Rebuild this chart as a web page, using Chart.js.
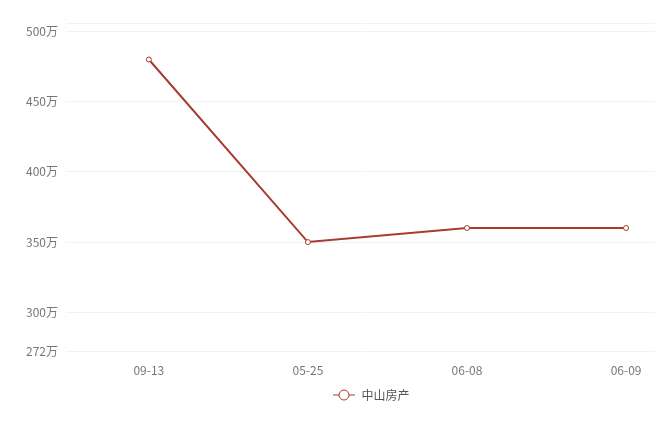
<!DOCTYPE html>
<html>
<head>
<meta charset="utf-8">
<script src="https://cdn.jsdelivr.net/npm/chart.js@4.4.1/dist/chart.umd.min.js"></script>
<style>
  html, body { margin: 0; padding: 0; background: #fff; }
  #wrap { width: 660px; height: 432px; position: relative; }
</style>
</head>
<body>
<div id="wrap"><canvas id="chart" width="660" height="432"></canvas></div>
<script>
const categories = ['09-13', '05-25', '06-08', '06-09'];
const prices = [480, 350, 360, 360];
const yTicks = [272, 300, 350, 400, 450, 500, 506];
const seriesName = '中山房产';

const lineColor = '#a83a2f';

// legend icon: short line with hollow circle
const icon = document.createElement('canvas');
icon.width = 22; icon.height = 12;
(function () {
    const c = icon.getContext('2d');
    c.strokeStyle = lineColor;
    c.lineWidth = 1;
    c.beginPath(); c.moveTo(0, 6); c.lineTo(22, 6); c.stroke();
    c.fillStyle = '#fff';
    c.beginPath(); c.arc(11, 6, 5, 0, Math.PI * 2); c.fill(); c.stroke();
})();

// nudge the legend to where the original puts it
const legendShift = {
    id: 'legendShift',
    afterLayout(chart) {
        const lg = chart.legend;
        lg.left += 32; lg.right += 32;
        lg.top += 1; lg.bottom += 1;
    },
};

new Chart(document.getElementById('chart'), {
    type: 'line',
    data: {
        datasets: [{
            label: seriesName,
            data: prices.map((v, i) => ({ x: i, y: v })),
            borderColor: lineColor,
            borderWidth: 2,
            backgroundColor: '#fff',
            pointRadius: 2.5,
            pointBorderWidth: 1,
            pointBorderColor: lineColor,
            pointBackgroundColor: '#fff',
            tension: 0,
        }],
    },
    plugins: [legendShift],
    options: {
        responsive: false,
        animation: false,
        layout: { padding: { top: 23, right: 0, left: 18, bottom: 22 } },
        plugins: {
            tooltip: { enabled: false },
            legend: {
                position: 'bottom',
                labels: {
                    usePointStyle: true,
                    pointStyleWidth: 23,
                    color: '#555',
                    font: { family: 'Noto Sans CJK SC', size: 12 },
                    padding: 6,
                    generateLabels: (chart) => [{
                        text: seriesName,
                        pointStyle: icon,
                        fontColor: '#555',
                        datasetIndex: 0,
                    }],
                },
            },
        },
        scales: {
            x: {
                type: 'linear',
                min: -0.521,
                max: 3.182,
                afterBuildTicks: (axis) => { axis.ticks = categories.map((_, i) => ({ value: i })); },
                grid: { display: false },
                border: { display: false },
                ticks: {
                    color: '#777',
                    font: { family: 'Noto Sans CJK SC', size: 12 },
                    padding: 4,
                    maxRotation: 0,
                    autoSkip: false,
                    callback: (v) => categories[v] ?? '',
                },
            },
            y: {
                min: 272,
                max: 506,
                afterBuildTicks: (axis) => { axis.ticks = yTicks.map(v => ({ value: v })); },
                grid: { color: '#f2f2f2', lineWidth: 1, drawTicks: false },
                border: { display: false },
                ticks: {
                    color: '#777',
                    font: { family: 'Noto Sans CJK SC', size: 12 },
                    padding: 8,
                    autoSkip: false,
                    callback: (v) => v === 506 ? '' : v + '万',
                },
            },
        },
    },
});
</script>
</body>
</html>
